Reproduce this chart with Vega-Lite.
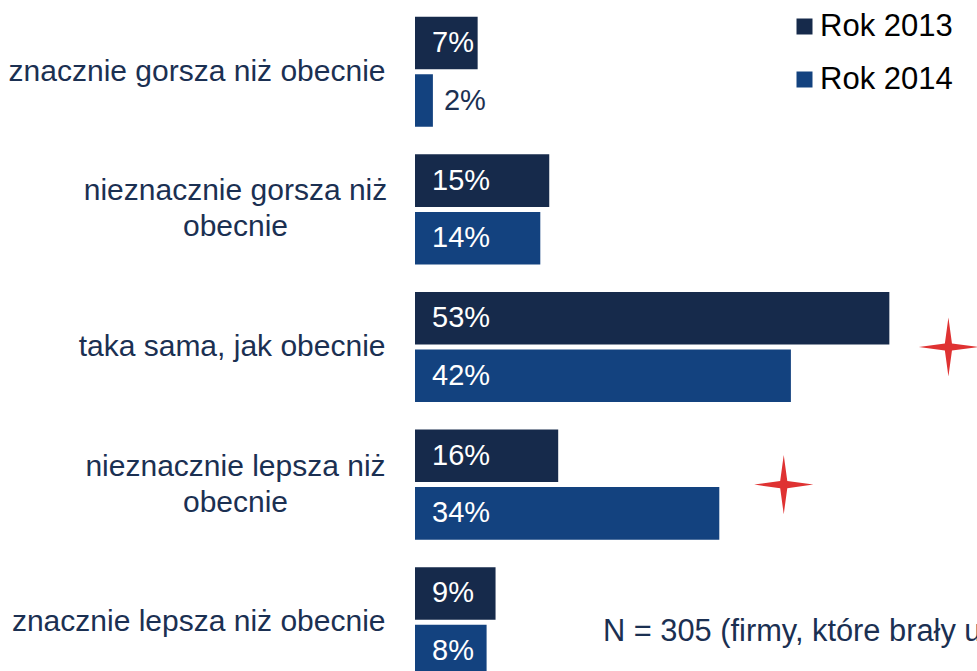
{
  "$schema": "https://vega.github.io/schema/vega-lite/v6.json",
  "autosize": {"type": "none"},
  "width": 537,
  "height": 668,
  "padding": {"left": 415, "top": 3, "right": 25, "bottom": 0},
  "background": "#ffffff",
  "config": {
    "view": {"stroke": null},
    "font": "Liberation Sans"
  },
  "datasets": {
    "bars": [
      {"category": "znacznie gorsza niż obecnie", "year": "Rok 2013", "value": 7},
      {"category": "znacznie gorsza niż obecnie", "year": "Rok 2014", "value": 2},
      {"category": "nieznacznie gorsza niż obecnie", "year": "Rok 2013", "value": 15},
      {"category": "nieznacznie gorsza niż obecnie", "year": "Rok 2014", "value": 14},
      {"category": "taka sama, jak obecnie", "year": "Rok 2013", "value": 53},
      {"category": "taka sama, jak obecnie", "year": "Rok 2014", "value": 42},
      {"category": "nieznacznie lepsza niż obecnie", "year": "Rok 2013", "value": 16},
      {"category": "nieznacznie lepsza niż obecnie", "year": "Rok 2014", "value": 34},
      {"category": "znacznie lepsza niż obecnie", "year": "Rok 2013", "value": 9},
      {"category": "znacznie lepsza niż obecnie", "year": "Rok 2014", "value": 8}
    ],
    "stars": [
      {"category": "taka sama, jak obecnie", "pos": 59.6},
      {"category": "nieznacznie lepsza niż obecnie", "pos": 41.2}
    ],
    "notes": [
      {"category": "znacznie lepsza niż obecnie", "pos": 21.0, "note": "N = 305 (firmy, które brały udział w obu edycjach badania)"}
    ]
  },
  "encoding": {
    "y": {
      "field": "category",
      "type": "nominal",
      "title": null,
      "sort": ["znacznie gorsza niż obecnie", "nieznacznie gorsza niż obecnie", "taka sama, jak obecnie", "nieznacznie lepsza niż obecnie", "znacznie lepsza niż obecnie"],
      "scale": {
        "domain": ["znacznie gorsza niż obecnie", "nieznacznie gorsza niż obecnie", "taka sama, jak obecnie", "nieznacznie lepsza niż obecnie", "znacznie lepsza niż obecnie"],
        "range": [0, 688],
        "paddingInner": 0.2,
        "paddingOuter": 0.1
      },
      "axis": {
        "domain": false,
        "ticks": false,
        "labelFont": "Liberation Sans",
        "labelFontSize": 30,
        "labelColor": "#1b3052",
        "labelLimit": 420,
        "labelLineHeight": 36,
        "labelBaseline": "middle",
        "labelAlign": {"condition": {"test": "datum.value == 'nieznacznie gorsza niż obecnie' || datum.value == 'nieznacznie lepsza niż obecnie'", "value": "center"}, "value": "right"},
        "labelPadding": {"condition": {"test": "datum.value == 'nieznacznie gorsza niż obecnie' || datum.value == 'nieznacznie lepsza niż obecnie'", "value": 180}, "value": 30},
        "labelOffset": {"condition": {"test": "datum.value == 'nieznacznie gorsza niż obecnie' || datum.value == 'nieznacznie lepsza niż obecnie'", "value": -18}, "value": 0},
        "labelExpr": "datum.value == 'nieznacznie gorsza niż obecnie' ? ['nieznacznie gorsza niż', 'obecnie'] : datum.value == 'nieznacznie lepsza niż obecnie' ? ['nieznacznie lepsza niż', 'obecnie'] : datum.value"
      }
    }
  },
  "layer": [
    {
      "data": {"name": "bars"},
      "mark": {"type": "bar"},
      "encoding": {
        "x": {"field": "value", "type": "quantitative", "scale": {"domain": [0, 60], "nice": false}, "axis": null},
        "yOffset": {"field": "year", "type": "nominal", "scale": {"domain": ["Rok 2013", "Rok 2014"], "paddingInner": 0.087, "paddingOuter": 0}},
        "color": {
          "field": "year",
          "type": "nominal",
          "scale": {"domain": ["Rok 2013", "Rok 2014"], "range": ["#162a4b", "#13427f"]},
          "legend": {
            "title": null,
            "orient": "none",
            "legendX": 374,
            "legendY": 8,
            "padding": 0,
            "symbolType": "square",
            "symbolSize": 256,
            "symbolStrokeWidth": 0,
            "symbolOpacity": 1,
            "labelFont": "Liberation Sans",
            "labelFontSize": 31,
            "labelColor": "#000000",
            "labelOffset": 0,
            "rowPadding": 21
          }
        }
      }
    },
    {
      "data": {"name": "bars"},
      "transform": [
        {"filter": "datum.value >= 5"},
        {"calculate": "datum.value + '%'", "as": "label"}
      ],
      "mark": {"type": "text", "align": "left", "baseline": "middle", "dx": 17, "font": "Liberation Sans", "fontSize": 29, "color": "#ffffff"},
      "encoding": {
        "x": {"datum": 0, "type": "quantitative"},
        "yOffset": {"field": "year", "type": "nominal"},
        "text": {"field": "label"}
      }
    },
    {
      "data": {"name": "bars"},
      "transform": [
        {"filter": "datum.value < 5"},
        {"calculate": "datum.value + '%'", "as": "label"}
      ],
      "mark": {"type": "text", "align": "left", "baseline": "middle", "dx": 11, "font": "Liberation Sans", "fontSize": 29, "color": "#1b3052"},
      "encoding": {
        "x": {"field": "value", "type": "quantitative"},
        "yOffset": {"field": "year", "type": "nominal"},
        "text": {"field": "label"}
      }
    },
    {
      "data": {"name": "stars"},
      "mark": {"type": "point", "filled": true, "color": "#df3232", "opacity": 1, "size": 3500, "shape": "M0,-1L0.12,-0.12L1,0L0.12,0.12L0,1L-0.12,0.12L-1,0L-0.12,-0.12Z"},
      "encoding": {
        "x": {"field": "pos", "type": "quantitative"}
      }
    },
    {
      "data": {"name": "notes"},
      "mark": {"type": "text", "align": "left", "baseline": "middle", "dy": 10, "font": "Liberation Sans", "fontSize": 30.8, "color": "#1b3052"},
      "encoding": {
        "x": {"field": "pos", "type": "quantitative"},
        "text": {"field": "note"}
      }
    }
  ]
}
